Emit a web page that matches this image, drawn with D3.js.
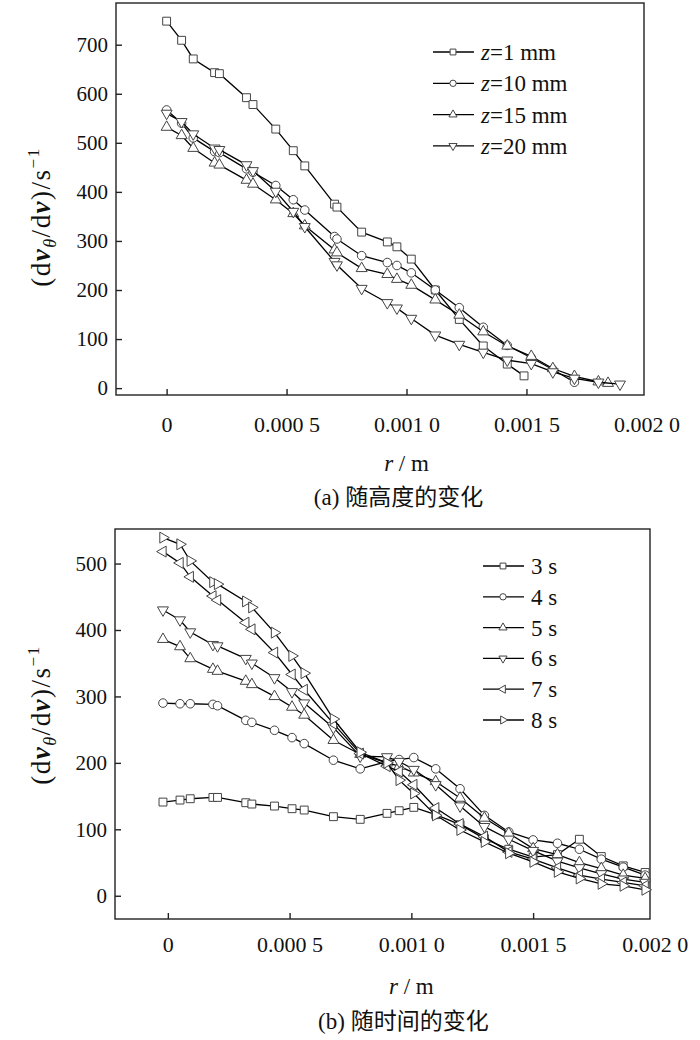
<!DOCTYPE html>
<html lang="zh">
  <head>
    <meta charset="utf-8">
    <style>
      body { margin: 0; background: #fff; }
      svg text { font-family: "Times New Roman", "Liberation Serif", serif; fill: #111; }
      .cjk { font-family: "Times New Roman", "Liberation Serif", "Noto Sans CJK SC", serif; }
      .frame { fill: none; stroke: #222; stroke-width: 1.4; }
      .series path.line { fill: none; stroke: #000; stroke-width: 1.3; }
      .mark { fill: #fff; stroke: #444; stroke-width: 1; }
    </style>
  </head>

  <body>
    <svg id="container" width="700" height="1040"></svg>
  </body>
  <script src="https://d3js.org/d3.v7.min.js"></script>
  <script>
// ---- data, panel (a): by height
const rA = [0, 0.0000625, 0.000111, 0.0002, 0.00022, 0.000333, 0.00036, 0.000455, 0.000528, 0.000576,
  0.0007, 0.00071, 0.000813, 0.00092, 0.00096, 0.00102, 0.00112, 0.00122, 0.00132, 0.00142,
  0.00149, 0.00152, 0.00161, 0.0017, 0.0018, 0.00184, 0.00189]
const z1  = [748, 709, 671, 643, 641, 592, 578, 528, 484, 453, 375, 369, 318, 298, 288, 263, 200, 140, 86, 49,
  25, null, null, null, null, null, null]
const z10 = [567, 540, 510, 482, 480, 447, 440, 413, 384, 363, 309, 304, 270, 256, 250, 235, 200, 164, 124, 87,
  null, 62, 38, 12, null, null, null]
const z15 = [532, 515, 489, 459, 455, 424, 416, 384, 356, 331, 282, 276, 244, 232, 222, 210, 180, 149, 115, 86,
  null, 65, 40, 24, 13, 10, null]
const z20 = [560, 543, 518, 489, 486, 455, 443, 401, 360, 329, 258, 251, 203, 174, 163, 142, 108, 89, 73, 57,
  null, 50, 33, 20, 12, null, 8]
const namesA = ["1", "10", "15", "20"]

// ---- data, panel (b): by time
const rB = [-0.00002, 0.00005, 0.000092, 0.000185, 0.000204, 0.00032, 0.000345, 0.000438, 0.00051, 0.00056,
  0.00068, 0.00079, 0.0009, 0.00095, 0.00101, 0.0011, 0.0012, 0.0013, 0.0014, 0.0015,
  0.0016, 0.00169, 0.00178, 0.00187, 0.00196]
const t3 = [141, 144, 146, 148, 148, 140, 138, 135, 131, 129, 119, 115, 124, 128, 133, 122, 107, 86, 70, 58, 62, 85, 59, 45, 35]
const t4 = [290, 289, 289, 288, 286, 264, 261, 249, 238, 229, 204, 191, 202, 205, 208, 191, 161, 121, 96, 84, 79, 70, 55, 43, 31]
const t5 = [386, 375, 357, 341, 338, 323, 318, 300, 284, 272, 234, 213, 200, 195, 185, 172, 147, 117, 94, 71, 62, 50, 41, 31, 26]
const t6 = [430, 415, 397, 378, 376, 357, 350, 328, 307, 290, 253, 210, 209, 202, 190, 167, 135, 104, 85, 68, 52, 42, 33, 25, 20]
const t7 = [518, 501, 480, 451, 445, 411, 401, 366, 333, 310, 259, 214, 195, 187, 167, 132, 108, 89, 66, 55, 42, 31, 25, 20, 15]
const t8 = [539, 529, 504, 472, 469, 443, 434, 396, 361, 335, 266, 216, 200, 174, 154, 121, 99, 81, 64, 51, 36, 26, 18, 15, 9]
const namesB = ["3 s", "4 s", "5 s", "6 s", "7 s", "8 s"]

const xTicks = [0, 0.0005, 0.001, 0.0015, 0.002]
const yTicksA = [0, 100, 200, 300, 400, 500, 600, 700]
const yTicksB = [0, 100, 200, 300, 400, 500]

// marker shapes: symbol + rotation
const shapes = {
    square: [d3.symbolSquare, 0],
    circle: [d3.symbolCircle, 0],
    up: [d3.symbolTriangle, 0],
    down: [d3.symbolTriangle, 180],
    left: [d3.symbolTriangle, -90],
    right: [d3.symbolTriangle, 90]
}
const sizes = { square: 62, circle: 58, up: 52, down: 52, left: 52, right: 52 }

let svg = d3.select("#container")

function fmtX(d) {
    if (d === 0) return "0"
    let s = d.toFixed(4)
    return s.slice(0, 5) + " " + s.slice(5)
}

function drawPanel(p) {
    let g = svg.append("g")
    let x = d3.scaleLinear().domain(p.xDomain).range([p.left, p.right])
    let y = d3.scaleLinear().domain(p.yDomain).range([p.bottom, p.top])

    // axes (ticks point inward)
    let xa = g.append("g")
        .attr("transform", `translate(0,${p.bottom})`)
        .call(d3.axisBottom(x).tickValues(xTicks).tickFormat(fmtX).tickSize(-6).tickPadding(p.xPad))
    xa.select(".domain").remove()
    xa.selectAll(".tick line")
        .attr("stroke", "#222").attr("stroke-width", 1.4)
        .attr("display", d => x(d) < p.right - 2 ? null : "none")
    xa.selectAll(".tick text").attr("font-size", 22).attr("fill", "#111")

    let ya = g.append("g")
        .attr("transform", `translate(${p.left},0)`)
        .call(d3.axisLeft(y).tickValues(p.yTicks).tickSize(-6).tickPadding(8))
    ya.select(".domain").remove()
    ya.selectAll(".tick line").attr("stroke", "#222").attr("stroke-width", 1.4)
    ya.selectAll(".tick text").attr("font-size", 21).attr("fill", "#111")

    g.append("rect").attr("class", "frame")
        .attr("x", p.left).attr("y", p.top)
        .attr("width", p.right - p.left).attr("height", p.bottom - p.top)

    // series lines + markers
    let line = d3.line().x(d => x(d.r)).y(d => y(d.v))
    p.series.forEach(s => {
        let pts = p.r.map((r, i) => ({ r: r, v: s.values[i] })).filter(d => d.v != null)
        let sg = g.append("g").attr("class", "series")
        sg.append("path").attr("class", "line").attr("d", line(pts))
        let sym = shapes[s.shape]
        sg.selectAll("path.mark")
            .data(pts)
            .enter()
            .append("path")
                .attr("class", "mark")
                .attr("d", d3.symbol().type(sym[0]).size(sizes[s.shape]))
                .attr("transform", d => `translate(${x(d.r)},${y(d.v)}) rotate(${sym[1]})`)
    })

    // legend
    p.series.forEach((s, i) => {
        let ly = p.legY + i * p.legStep
        let lg = g.append("g").attr("transform", `translate(${p.legX},${ly})`)
        lg.append("line").attr("x1", 0).attr("x2", 41).attr("y1", 0).attr("y2", 0)
            .attr("stroke", "#000").attr("stroke-width", 1.3)
        let sym = shapes[s.shape]
        lg.append("path").attr("class", "mark")
            .attr("d", d3.symbol().type(sym[0]).size(sizes[s.shape] * 0.55))
            .attr("transform", `translate(20,0) rotate(${sym[1]})`)
        let t = lg.append("text").attr("x", 48).attr("y", 8).attr("font-size", 23)
        if (s.z) {
            t.append("tspan").attr("font-style", "italic").text("z")
            t.append("tspan").text("=" + s.z + " mm")
        } else {
            t.text(s.label)
        }
    })

    // y title
    let yt = g.append("text")
        .attr("transform", `translate(${p.yTitleX},${p.yTitleY}) rotate(-90)`)
        .attr("text-anchor", "middle").attr("font-size", 27).attr("letter-spacing", 1.5)
    yt.append("tspan").text("(d")
    yt.append("tspan").attr("font-style", "italic").attr("font-weight", "bold").text("v")
    yt.append("tspan").attr("font-style", "italic").attr("font-size", 18).attr("dy", 6).text("θ")
    yt.append("tspan").attr("dy", -6).text("/d")
    yt.append("tspan").attr("font-style", "italic").attr("font-weight", "bold").text("v")
    yt.append("tspan").text(")/s")
    yt.append("tspan").attr("font-size", 17).attr("dy", -11).text("−1")

    // x title + caption
    let xt = g.append("text").attr("x", x(0.001)).attr("y", p.xTitleY)
        .attr("text-anchor", "middle").attr("font-size", 23)
    xt.append("tspan").attr("font-style", "italic").text("r")
    xt.append("tspan").text(" / m")

    g.append("text").attr("class", "cjk")
        .attr("x", x(0.001) - 8).attr("y", p.capY)
        .attr("text-anchor", "middle").attr("font-size", 23)
        .text(p.caption)
}

drawPanel({
    left: 116, right: 644, top: 3, bottom: 395,
    xDomain: [-0.000211, 0.00199], yDomain: [-14, 785],
    yTicks: yTicksA, xPad: 21, r: rA,
    series: [
        { values: z1, shape: "square", z: namesA[0] },
        { values: z10, shape: "circle", z: namesA[1] },
        { values: z15, shape: "up", z: namesA[2] },
        { values: z20, shape: "down", z: namesA[3] }
    ],
    legX: 433, legY: 52, legStep: 31.3,
    yTitleX: 50, yTitleY: 217, xTitleY: 471, capY: 505,
    caption: "(a) 随高度的变化"
})

drawPanel({
    left: 115, right: 650, top: 529, bottom: 919,
    xDomain: [-0.000217, 0.00198], yDomain: [-35, 552],
    yTicks: yTicksB, xPad: 17, r: rB,
    series: [
        { values: t3, shape: "square", label: namesB[0] },
        { values: t4, shape: "circle", label: namesB[1] },
        { values: t5, shape: "up", label: namesB[2] },
        { values: t6, shape: "down", label: namesB[3] },
        { values: t7, shape: "left", label: namesB[4] },
        { values: t8, shape: "right", label: namesB[5] }
    ],
    legX: 483, legY: 566, legStep: 30.8,
    yTitleX: 50, yTitleY: 715, xTitleY: 994, capY: 1029,
    caption: "(b) 随时间的变化"
})
  </script>
</html>
